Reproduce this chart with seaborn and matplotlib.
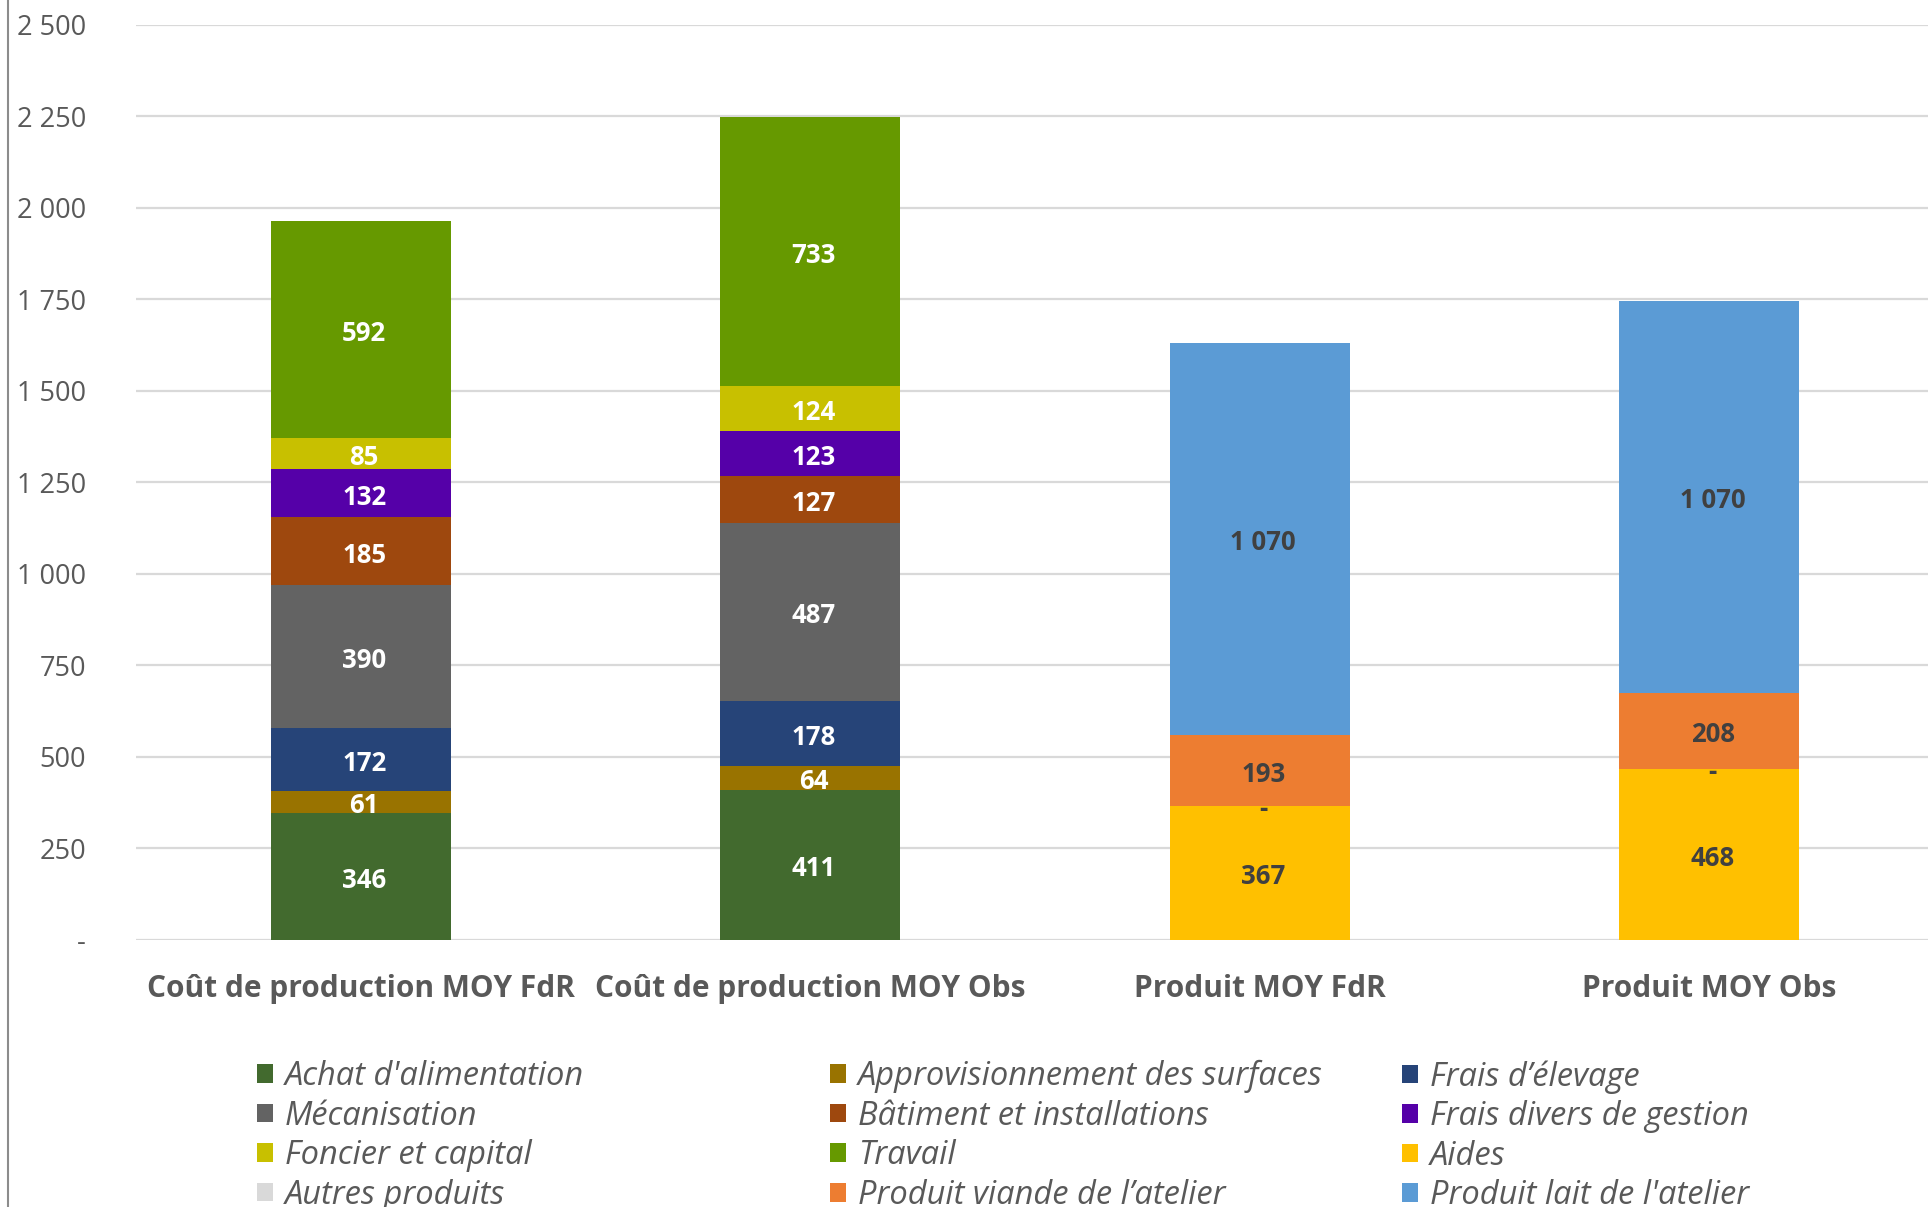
import numpy as np
import matplotlib
matplotlib.use("Agg")
import matplotlib.pyplot as plt
import seaborn as sns
from matplotlib.patches import Patch
from matplotlib.lines import Line2D

# ---------------- data ----------------
categories = ["Coût de production MOY FdR", "Coût de production MOY Obs",
              "Produit MOY FdR", "Produit MOY Obs"]

achat_alimentation = [346, 411, None, None]
approvisionnement_surfaces = [61, 64, None, None]
frais_elevage = [172, 178, None, None]
mecanisation = [390, 487, None, None]
batiment_installations = [185, 127, None, None]
frais_divers_gestion = [132, 123, None, None]
foncier_capital = [85, 124, None, None]
travail = [592, 733, None, None]
aides = [None, None, 367, 468]
autres_produits = [None, None, 0, 0]
produit_viande = [None, None, 193, 208]
produit_lait = [None, None, 1070, 1070]

series_names = ["Achat d'alimentation", "Approvisionnement des surfaces", "Frais d’élevage",
                "Mécanisation", "Bâtiment et installations", "Frais divers de gestion",
                "Foncier et capital", "Travail", "Aides", "Autres produits",
                "Produit viande de l’atelier", "Produit lait de l'atelier"]
series_values = [achat_alimentation, approvisionnement_surfaces, frais_elevage, mecanisation,
                 batiment_installations, frais_divers_gestion, foncier_capital, travail,
                 aides, autres_produits, produit_viande, produit_lait]
series_colors = ["#426A2E", "#997300", "#264478", "#636363", "#9E480E", "#5500A8",
                 "#C8C000", "#669900", "#FFC000", "#D9D9D9", "#ED7D31", "#5B9BD5"]
label_colors = ["white"] * 8 + ["#404040"] * 4

# legend layout (columns as displayed)
legend_columns = [
    ["Achat d'alimentation", "Mécanisation", "Foncier et capital", "Autres produits"],
    ["Approvisionnement des surfaces", "Bâtiment et installations", "Travail", "Produit viande de l’atelier"],
    ["Frais d’élevage", "Frais divers de gestion", "Aides", "Produit lait de l'atelier"],
]

yticks = [0, 250, 500, 750, 1000, 1250, 1500, 1750, 2000, 2250, 2500]

# ---------------- style ----------------
sns.set_theme(style="white")
plt.rcParams['font.family'] = ['Open Sans', 'DejaVu Sans']
TXT = "#595959"

W, H = 1928, 1207
fig = plt.figure(figsize=(W / 100, H / 100), dpi=100)
ax = fig.add_axes([136 / W, 1 - 940 / H, (1934 - 136) / W, (940 - 24.7) / H])

def fmt(v):
    if v == 0:
        return "-"
    return f"{int(v):,}".replace(",", " ")

bottom = np.zeros(len(categories))
for name, vals, col, lcol in zip(series_names, series_values, series_colors, label_colors):
    v = np.array([np.nan if x is None else x for x in vals], dtype=float)
    h = np.nan_to_num(v)
    sns.barplot(x=categories, y=h, order=categories, color=col, saturation=1,
                width=0.4, bottom=bottom.copy(), errorbar=None, linewidth=0, ax=ax)
    for i, val in enumerate(v):
        if np.isnan(val):
            continue
        ax.annotate(fmt(val), (i, bottom[i] + h[i] / 2), xytext=(2.5, -2.7),
                    textcoords="offset points", ha="center", va="center",
                    fontsize=18.5, fontweight="bold", color=lcol)
    bottom += h

ax.set_xlim(-0.5, 3.5)
ax.set_ylim(0, 2500)
ax.set_yticks(yticks)
ax.set_yticklabels([fmt(t) for t in yticks])
ax.yaxis.grid(True, color="#D9D9D9", linewidth=1.6)
ax.xaxis.grid(False)
ax.set_axisbelow(True)
for s in ax.spines.values():
    s.set_visible(False)
ax.tick_params(axis="y", length=0, pad=36, labelsize=19.5, labelcolor=TXT)
ax.tick_params(axis="x", length=0, pad=24.5, labelsize=21.5, labelcolor=TXT)
for lab in ax.get_xticklabels():
    lab.set_fontweight("bold")
ax.set_xlabel("")
ax.set_ylabel("")

# left border line
fig.add_artist(Line2D([8 / W, 8 / W], [0, 1], transform=fig.transFigure, color="#8C8C8C", lw=1.5))

# legends (three columns)
color_of = dict(zip(series_names, series_colors))
col_x = [257, 830, 1402]
for cx, names in zip(col_x, legend_columns):
    handles = [Patch(facecolor=color_of[n], edgecolor="none") for n in names]
    leg = fig.legend(handles, names, loc="upper left", bbox_to_anchor=(cx / W, 1 - 1060 / H),
                     ncol=1, frameon=False, borderpad=0, borderaxespad=0,
                     handlelength=0.5, handleheight=0.5, handletextpad=0.36,
                     labelspacing=0.2, prop={"size": 23.5, "style": "italic"})
    for t in leg.get_texts():
        t.set_color(TXT)

fig.savefig("out.png", dpi=100)
